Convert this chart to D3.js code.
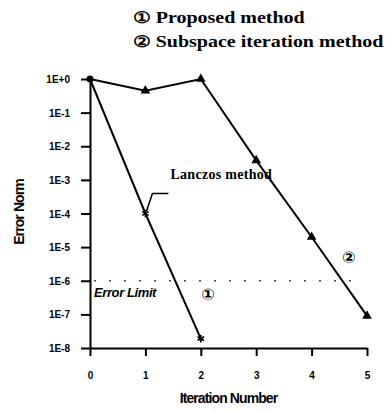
<!DOCTYPE html>
<html>
<head>
<meta charset="utf-8">
<script src="https://cdn.jsdelivr.net/npm/d3@7"></script>
<style>
  body { margin: 0; background: #fff; }
  svg { display: block; }
</style>
</head>
<body>
<svg id="drawing_region"></svg>
<script>
// iteration numbers and error norms
const iterations = [0, 1, 2, 3, 4, 5];
const proposed_x = [0, 1, 2];
const proposed_err = [1, 1e-4, 1.9e-8];
const subspace_x = [0, 1, 2, 3, 4, 5];
const subspace_err = [1, 0.45, 1, 3.8e-3, 2e-5, 9e-8];
const y_ticks = [1, 1e-1, 1e-2, 1e-3, 1e-4, 1e-5, 1e-6, 1e-7, 1e-8];
const y_labels = ['1E+0', '1E-1', '1E-2', '1E-3', '1E-4', '1E-5', '1E-6', '1E-7', '1E-8'];
const error_limit = 1e-6;

const config = {
  width: 392,
  height: 411,
  margin: {top: 79, right: 25, bottom: 63, left: 90}
};

const svg = d3.select('#drawing_region')
  .attr('width', config.width)
  .attr('height', config.height);

const inner_width = config.width - config.margin.left - config.margin.right;
const inner_height = config.height - config.margin.top - config.margin.bottom;

const chart = svg.append('g')
  .attr('transform', `translate(${config.margin.left}, ${config.margin.top})`);

const xscale = d3.scaleLinear()
  .domain([0, 5])
  .range([0, 277]);

const yscale = d3.scaleLog()
  .domain([1e-8, 1])
  .range([inner_height, 0]);

// axes
const xaxis = d3.axisBottom(xscale)
  .tickValues(iterations)
  .tickFormat(d3.format('d'))
  .tickSize(8)
  .tickPadding(16)
  .tickSizeOuter(0);

const yaxis = d3.axisLeft(yscale)
  .tickValues(y_ticks)
  .tickFormat((d, i) => y_labels[i])
  .tickSize(9)
  .tickPadding(11)
  .tickSizeOuter(0);

const xaxis_group = chart.append('g')
  .attr('transform', `translate(0, ${inner_height})`)
  .call(xaxis);

const yaxis_group = chart.append('g')
  .call(yaxis);

[xaxis_group, yaxis_group].forEach(g => {
  g.select('.domain').attr('stroke', '#000').attr('stroke-width', 2);
  g.selectAll('.tick line').attr('stroke', '#000').attr('stroke-width', 2);
  g.selectAll('.tick text')
    .attr('fill', '#000')
    .style('font-family', '"Liberation Sans", Arial, sans-serif')
    .style('font-weight', 'bold')
    .style('font-size', '10px');
});
yaxis_group.selectAll('.tick text').attr('dy', '0.35em');

// error limit line
chart.append('line')
  .attr('x1', 4)
  .attr('x2', xscale(5) - 5)
  .attr('y1', yscale(error_limit))
  .attr('y2', yscale(error_limit))
  .attr('stroke', '#444')
  .attr('stroke-width', 1.5)
  .attr('stroke-dasharray', '2,13');

chart.append('text')
  .attr('x', 4)
  .attr('y', yscale(error_limit) + 16)
  .attr('fill', '#000')
  .style('font-family', '"Liberation Sans", Arial, sans-serif')
  .style('font-weight', 'bold')
  .style('font-style', 'italic')
  .style('font-size', '13px')
  .style('letter-spacing', '-0.4px')
  .text('Error Limit');

// series lines
const line = d3.line()
  .x(d => xscale(d[0]))
  .y(d => yscale(d[1]));

const proposed = proposed_x.map((x, i) => [x, proposed_err[i]]);
const subspace = subspace_x.map((x, i) => [x, subspace_err[i]]);

chart.append('path')
  .attr('d', line(subspace))
  .attr('stroke', '#000')
  .attr('stroke-width', 2)
  .attr('fill', 'none');

chart.append('path')
  .attr('d', line(proposed))
  .attr('stroke', '#000')
  .attr('stroke-width', 2)
  .attr('fill', 'none');

// markers
chart.selectAll('.tri')
  .data(subspace.slice(1))
  .enter()
  .append('path')
  .attr('class', 'tri')
  .attr('transform', d => `translate(${xscale(d[0])}, ${yscale(d[1])})`)
  .attr('d', d3.symbol().type(d3.symbolTriangle).size(40))
  .attr('fill', '#000');

chart.selectAll('.star')
  .data(proposed.slice(1))
  .enter()
  .append('path')
  .attr('class', 'star')
  .attr('transform', d => `translate(${xscale(d[0])}, ${yscale(d[1])})`)
  .attr('d', d3.symbol().type(d3.symbolAsterisk).size(40))
  .attr('stroke', '#000')
  .attr('stroke-width', 1.6)
  .attr('fill', 'none');

chart.append('circle')
  .attr('cx', xscale(0))
  .attr('cy', yscale(1))
  .attr('r', 3.5)
  .attr('fill', '#000');

// Lanczos leader
const sx = xscale(proposed[1][0]), sy = yscale(proposed[1][1]);
chart.append('path')
  .attr('d', `M${sx + 1},${sy - 2} L${sx + 7},${sy - 20} L${sx + 23},${sy - 20}`)
  .attr('stroke', '#000')
  .attr('stroke-width', 1.5)
  .attr('fill', 'none');

chart.append('text')
  .attr('x', sx + 25)
  .attr('y', sy - 35)
  .attr('fill', '#000')
  .style('font-family', '"Liberation Serif", "Times New Roman", serif')
  .style('font-weight', 'bold')
  .style('font-size', '14px')
  .style('letter-spacing', '0.3px')
  .text('Lanczos method');

// circled series labels
const circled = [
  {t: '\u2460', x: 2.13, y: 4e-7},
  {t: '\u2461', x: 4.67, y: 4.8e-6}
];
chart.selectAll('.num')
  .data(circled)
  .enter()
  .append('text')
  .attr('class', 'num')
  .attr('x', d => xscale(d.x))
  .attr('y', d => yscale(d.y))
  .attr('text-anchor', 'middle')
  .attr('dy', '0.35em')
  .attr('fill', '#000')
  .style('font-family', '"DejaVu Sans", sans-serif')
  .style('font-weight', 'bold')
  .style('font-size', '16px')
  .text(d => d.t);

// axis titles
svg.append('text')
  .attr('x', config.margin.left + xscale(2.5))
  .attr('y', 403)
  .attr('text-anchor', 'middle')
  .attr('fill', '#000')
  .style('font-family', '"Liberation Sans", Arial, sans-serif')
  .style('font-size', '14px')
  .style('font-weight', 'bold')
  .style('letter-spacing', '-0.9px')
  .text('Iteration Number');

svg.append('text')
  .attr('transform', 'translate(24, 212) rotate(-90)')
  .attr('text-anchor', 'middle')
  .attr('fill', '#000')
  .style('font-family', '"Liberation Sans", Arial, sans-serif')
  .style('font-size', '14px')
  .style('font-weight', 'bold')
  .style('letter-spacing', '-0.9px')
  .text('Error Norm');

// legend text at top
const legend = ['\u2460 Proposed method', '\u2461 Subspace iteration method'];
svg.selectAll('.legend')
  .data(legend)
  .enter()
  .append('text')
  .attr('class', 'legend')
  .attr('transform', (d, i) => `translate(133, ${23 + i * 24}) scale(1.25, 1)`)
  .attr('fill', '#000')
  .style('font-family', '"Liberation Serif", "Times New Roman", serif')
  .style('font-weight', 'bold')
  .style('font-size', '16px')
  .text(d => d);
</script>
</body>
</html>
